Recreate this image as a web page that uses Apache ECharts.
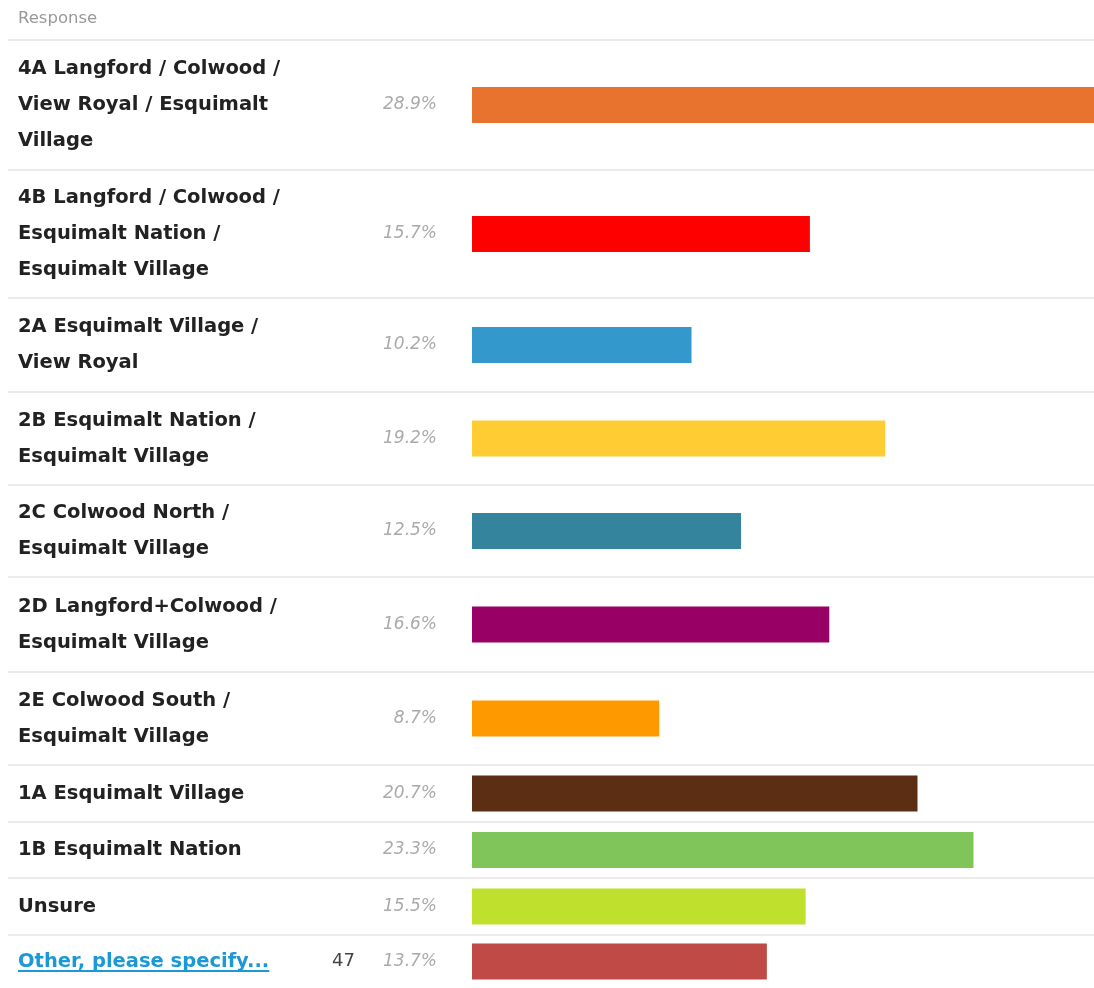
<!DOCTYPE html>
<html>
<head>
<meta charset="utf-8">
<script src="https://cdn.jsdelivr.net/npm/echarts@6/dist/echarts.min.js"></script>
<style>
  html, body { margin: 0; padding: 0; background: #fff; }
  #main { width: 1094px; height: 988px; }
</style>
</head>
<body>
<div id="main"></div>
<script>
// 数据
var categories = [
  '4A Langford / Colwood /\nView Royal / Esquimalt\nVillage',
  '4B Langford / Colwood /\nEsquimalt Nation /\nEsquimalt Village',
  '2A Esquimalt Village /\nView Royal',
  '2B Esquimalt Nation /\nEsquimalt Village',
  '2C Colwood North /\nEsquimalt Village',
  '2D Langford+Colwood /\nEsquimalt Village',
  '2E Colwood South /\nEsquimalt Village',
  '1A Esquimalt Village',
  '1B Esquimalt Nation',
  'Unsure',
  'Other, please specify...'
]
var percents = [28.9, 15.7, 10.2, 19.2, 12.5, 16.6, 8.7, 20.7, 23.3, 15.5, 13.7]
var counts = [null, null, null, null, null, null, null, null, null, null, 47]
var colors = ['#E8732F', '#FF0000', '#3399CC', '#FFCC33', '#33849C', '#990066',
  '#FF9900', '#5C2E14', '#80C55A', '#BFE02D', '#BF4A46']

// 布局
var rowTops = [40, 170, 298, 392, 485, 577, 672, 765, 822, 878, 935]
var rowHeights = [130, 128, 94, 93, 92, 95, 93, 57, 56, 57, 56]
var barLeft = 472
var font = 'DejaVu Sans'
var labelSize = 19.5
var linkColor = '#1B98D5'

var myChart = echarts.init(document.getElementById('main'))

var grids = []
var xAxes = []
var yAxes = []
var series = []
var graphics = []

categories.forEach(function (name, i) {
  var isLink = i === categories.length - 1
  grids.push({ left: barLeft, right: 0, top: rowTops[i], height: rowHeights[i] })
  xAxes.push({ gridIndex: i, type: 'value', min: 0, max: 28.9, show: false })
  yAxes.push({
    gridIndex: i,
    type: 'category',
    data: [name],
    axisLine: { show: false },
    axisTick: { show: false },
    axisLabel: {
      align: 'left',
      margin: barLeft - 18,
      fontFamily: font,
      fontWeight: 'bold',
      fontSize: labelSize,
      lineHeight: 36,
      color: isLink ? linkColor : '#222'
    }
  })
  series.push({
    type: 'bar',
    xAxisIndex: i,
    yAxisIndex: i,
    barWidth: 36,
    silent: true,
    data: [{ value: percents[i], itemStyle: { color: colors[i] } }],
    label: {
      show: true,
      position: 'left',
      distance: 35,
      formatter: function () {
        var p = '{p|' + percents[i].toFixed(1) + '%}'
        return counts[i] != null ? '{n|' + counts[i] + '}' + p : p
      },
      rich: {
        p: { fontFamily: font, fontStyle: 'italic', fontSize: 17, color: '#aaa' },
        n: { fontFamily: font, fontSize: 18, color: '#444', padding: [0, 28, 0, 0] }
      }
    }
  })
  graphics.push({
    type: 'line',
    silent: true,
    shape: { x1: 8, y1: rowTops[i], x2: 1094, y2: rowTops[i] },
    style: { stroke: '#ebebeb', lineWidth: 2 }
  })
})

// 链接下划线，宽度按文字测量
var last = rowTops.length - 1
var ctx = document.createElement('canvas').getContext('2d')
ctx.font = 'bold ' + labelSize + 'px "' + font + '"'
var linkWidth = ctx.measureText(categories[last]).width
graphics.push({
  type: 'line',
  silent: true,
  shape: { x1: 18, y1: rowTops[last] + 36, x2: 18 + linkWidth, y2: rowTops[last] + 36 },
  style: { stroke: linkColor, lineWidth: 2 }
})

myChart.setOption({
  animation: false,
  title: {
    text: 'Response',
    left: 13,
    top: 5,
    textStyle: { fontFamily: font, fontSize: 16.5, fontWeight: 'normal', color: '#999' }
  },
  grid: grids,
  xAxis: xAxes,
  yAxis: yAxes,
  series: series,
  graphic: graphics
})
</script>
</body>
</html>
